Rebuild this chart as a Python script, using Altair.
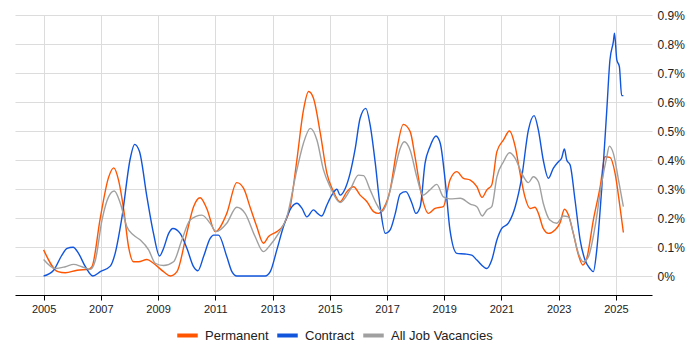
import altair as alt
import pandas as pd

perm_x = [2005.0, 2005.5, 2005.76, 2006.17, 2006.57, 2006.69, 2006.98, 2007.27, 2007.45, 2007.62,
          2007.8, 2007.97, 2008.14, 2008.32, 2008.61, 2008.84, 2009.19, 2009.43, 2009.66, 2010.0,
          2010.24, 2010.47, 2010.7, 2011.0, 2011.4, 2011.75, 2011.99, 2012.22, 2012.45, 2012.68,
          2012.86, 2013.15, 2013.38, 2013.62, 2013.85, 2014.08, 2014.26, 2014.43, 2014.67, 2014.9,
          2015.13, 2015.36, 2015.6, 2015.83, 2016.06, 2016.3, 2016.53, 2016.7, 2016.88, 2017.11,
          2017.34, 2017.57, 2017.81, 2017.98, 2018.22, 2018.45, 2018.68, 2018.97, 2019.2, 2019.44,
          2019.67, 2019.91, 2020.14, 2020.32, 2020.49, 2020.66, 2020.84, 2021.07, 2021.28, 2021.48,
          2021.65, 2021.82, 2022.0, 2022.17, 2022.29, 2022.46, 2022.64, 2022.87, 2023.05, 2023.2,
          2023.34, 2023.51, 2023.69, 2023.84, 2023.98, 2024.21, 2024.45, 2024.62, 2024.79, 2024.97,
          2025.14, 2025.26]
perm_y = [0.090, 0.015, 0.011, 0.020, 0.023, 0.032, 0.200, 0.340, 0.373, 0.330,
          0.228, 0.100, 0.049, 0.049, 0.057, 0.044, 0.015, 0.000, 0.015, 0.147,
          0.239, 0.270, 0.233, 0.153, 0.216, 0.322, 0.302, 0.236, 0.170, 0.113,
          0.136, 0.153, 0.176, 0.239, 0.400, 0.572, 0.636, 0.613, 0.492, 0.354,
          0.291, 0.256, 0.291, 0.308, 0.279, 0.256, 0.222, 0.216, 0.233, 0.297,
          0.434, 0.523, 0.498, 0.411, 0.273, 0.216, 0.233, 0.239, 0.331, 0.360,
          0.337, 0.331, 0.308, 0.271, 0.297, 0.314, 0.429, 0.469, 0.500, 0.446,
          0.354, 0.273, 0.233, 0.237, 0.216, 0.164, 0.147, 0.159, 0.184, 0.230,
          0.210, 0.147, 0.072, 0.038, 0.061, 0.193, 0.308, 0.411, 0.409, 0.354,
          0.239, 0.150]

cont_x = [2005.0, 2005.35, 2005.64, 2005.82, 2006.03, 2006.22, 2006.46, 2006.72, 2006.98, 2007.33,
          2007.5, 2007.74, 2008.03, 2008.18, 2008.35, 2008.61, 2008.84, 2009.05, 2009.19, 2009.37,
          2009.52, 2009.77, 2010.01, 2010.24, 2010.39, 2010.59, 2010.82, 2010.94, 2011.11, 2011.4,
          2011.58, 2011.75, 2012.2, 2012.74, 2012.92, 2013.15, 2013.38, 2013.68, 2013.85, 2014.03,
          2014.2, 2014.43, 2014.57, 2014.72, 2014.9, 2015.07, 2015.25, 2015.36, 2015.54, 2015.71,
          2015.89, 2016.06, 2016.26, 2016.41, 2016.59, 2016.76, 2016.94, 2017.11, 2017.29, 2017.46,
          2017.66, 2017.87, 2018.01, 2018.16, 2018.33, 2018.5, 2018.71, 2018.86, 2019.03, 2019.2,
          2019.44, 2019.72, 2019.96, 2020.14, 2020.49, 2020.66, 2020.84, 2021.01, 2021.24, 2021.48,
          2021.71, 2021.94, 2022.14, 2022.29, 2022.46, 2022.64, 2022.81, 2022.99, 2023.1, 2023.2,
          2023.28, 2023.4, 2023.57, 2023.75, 2023.92, 2024.09, 2024.21, 2024.33, 2024.5, 2024.68,
          2024.79, 2024.91, 2024.95, 2025.03, 2025.12, 2025.2, 2025.26]
cont_y = [0.000, 0.020, 0.072, 0.095, 0.099, 0.078, 0.032, 0.000, 0.015, 0.034,
          0.078, 0.204, 0.406, 0.454, 0.429, 0.273, 0.147, 0.069, 0.095, 0.147,
          0.164, 0.147, 0.095, 0.032, 0.018, 0.067, 0.130, 0.141, 0.141, 0.067,
          0.015, 0.000, 0.000, 0.000, 0.015, 0.090, 0.170, 0.239, 0.251, 0.233,
          0.204, 0.228, 0.216, 0.207, 0.245, 0.279, 0.299, 0.279, 0.302, 0.354,
          0.440, 0.544, 0.578, 0.521, 0.389, 0.239, 0.147, 0.159, 0.216, 0.283,
          0.291, 0.251, 0.216, 0.239, 0.389, 0.446, 0.483, 0.458, 0.331, 0.159,
          0.078, 0.076, 0.072, 0.055, 0.026, 0.055, 0.124, 0.164, 0.182, 0.239,
          0.342, 0.503, 0.553, 0.503, 0.400, 0.337, 0.371, 0.394, 0.406, 0.438,
          0.400, 0.383, 0.262, 0.124, 0.055, 0.026, 0.015, 0.090, 0.297, 0.572,
          0.745, 0.808, 0.837, 0.745, 0.722, 0.622, 0.622]

all_x = [2005.0, 2005.41, 2005.76, 2006.05, 2006.34, 2006.63, 2006.81, 2007.04, 2007.27, 2007.47,
         2007.68, 2007.91, 2008.14, 2008.38, 2008.67, 2008.9, 2009.19, 2009.54, 2009.83, 2010.12,
         2010.53, 2010.82, 2011.03, 2011.4, 2011.75, 2012.04, 2012.39, 2012.68, 2012.92, 2013.21,
         2013.5, 2013.85, 2014.08, 2014.32, 2014.55, 2014.78, 2015.01, 2015.36, 2015.71, 2016.0,
         2016.18, 2016.41, 2016.65, 2016.82, 2016.99, 2017.22, 2017.46, 2017.6, 2017.81, 2018.04,
         2018.25, 2018.5, 2018.74, 2018.97, 2019.2, 2019.56, 2019.91, 2020.14, 2020.33, 2020.49,
         2020.66, 2020.84, 2021.07, 2021.28, 2021.48, 2021.71, 2021.94, 2022.11, 2022.29, 2022.46,
         2022.69, 2022.93, 2023.16, 2023.34, 2023.51, 2023.69, 2023.86, 2024.04, 2024.27, 2024.5,
         2024.68, 2024.77, 2024.91, 2025.09, 2025.26]
all_y = [0.057, 0.026, 0.032, 0.040, 0.032, 0.023, 0.055, 0.193, 0.273, 0.293,
         0.251, 0.170, 0.141, 0.124, 0.090, 0.044, 0.036, 0.049, 0.124, 0.193,
         0.210, 0.182, 0.153, 0.182, 0.237, 0.216, 0.136, 0.084, 0.107, 0.147,
         0.204, 0.366, 0.458, 0.509, 0.469, 0.366, 0.308, 0.253, 0.297, 0.348,
         0.346, 0.297, 0.245, 0.222, 0.251, 0.342, 0.440, 0.463, 0.434, 0.342,
         0.279, 0.297, 0.316, 0.273, 0.266, 0.268, 0.248, 0.239, 0.207, 0.228,
         0.239, 0.342, 0.394, 0.425, 0.406, 0.354, 0.322, 0.342, 0.325, 0.251,
         0.193, 0.182, 0.207, 0.204, 0.147, 0.078, 0.049, 0.067, 0.170, 0.320,
         0.411, 0.448, 0.423, 0.331, 0.239]

series = ["Permanent", "Contract", "All Job Vacancies"]
colors = ["#FF5500", "#1155DD", "#A0A0A0"]
x_ticks = list(range(2005, 2026, 2))
y_ticks = [0.0, 0.1, 0.2, 0.3, 0.4, 0.5, 0.6, 0.7, 0.8, 0.9]

rows = []
for name, xs, ys in [(series[0], perm_x, perm_y), (series[1], cont_x, cont_y), (series[2], all_x, all_y)]:
    for i, (a, b) in enumerate(zip(xs, ys)):
        rows.append({"year": a, "value": b, "series": name, "order": i})
df = pd.DataFrame(rows)

font = "Liberation Sans"

chart = alt.Chart(df).mark_line(strokeWidth=1.4, interpolate="monotone").encode(
    x=alt.X("year:Q",
            scale=alt.Scale(domain=[2004.0, 2026.26], nice=False, zero=False),
            axis=alt.Axis(values=x_ticks, format="d", title=None, grid=True,
                          gridColor="#dcdcdc", domainColor="#000000", tickColor="#000000",
                          tickSize=5, labelFontSize=11, labelColor="#222222", labelFont=font,
                          labelPadding=3)),
    y=alt.Y("value:Q",
            scale=alt.Scale(domain=[-0.0655, 0.9], nice=False, zero=False),
            axis=alt.Axis(orient="right", values=y_ticks, title=None, grid=True,
                          gridColor="#dcdcdc", domain=False, ticks=False,
                          labelExpr="datum.value == 0 ? '0%' : format(datum.value, '.1f') + '%'",
                          labelFontSize=12, labelColor="#222222", labelFont=font, labelPadding=5)),
    color=alt.Color("series:N",
                    scale=alt.Scale(domain=series, range=colors),
                    legend=alt.Legend(orient="none", legendX=160, legendY=308,
                                      direction="horizontal", title=None, gridAlign="none",
                                      symbolType="stroke", symbolSize=420, symbolStrokeWidth=4,
                                      labelFontSize=13, labelFont=font, labelColor="#222222",
                                      columnPadding=0, labelOffset=5)),
    order="order:Q",
).properties(
    width=637, height=280,
    autosize=alt.AutoSizeParams(type="none"),
    padding={"left": 7, "top": 7, "right": 38, "bottom": 55},
).configure_view(stroke=None)

chart.save("out.html", embed_options={"renderer": "svg", "actions": False})
